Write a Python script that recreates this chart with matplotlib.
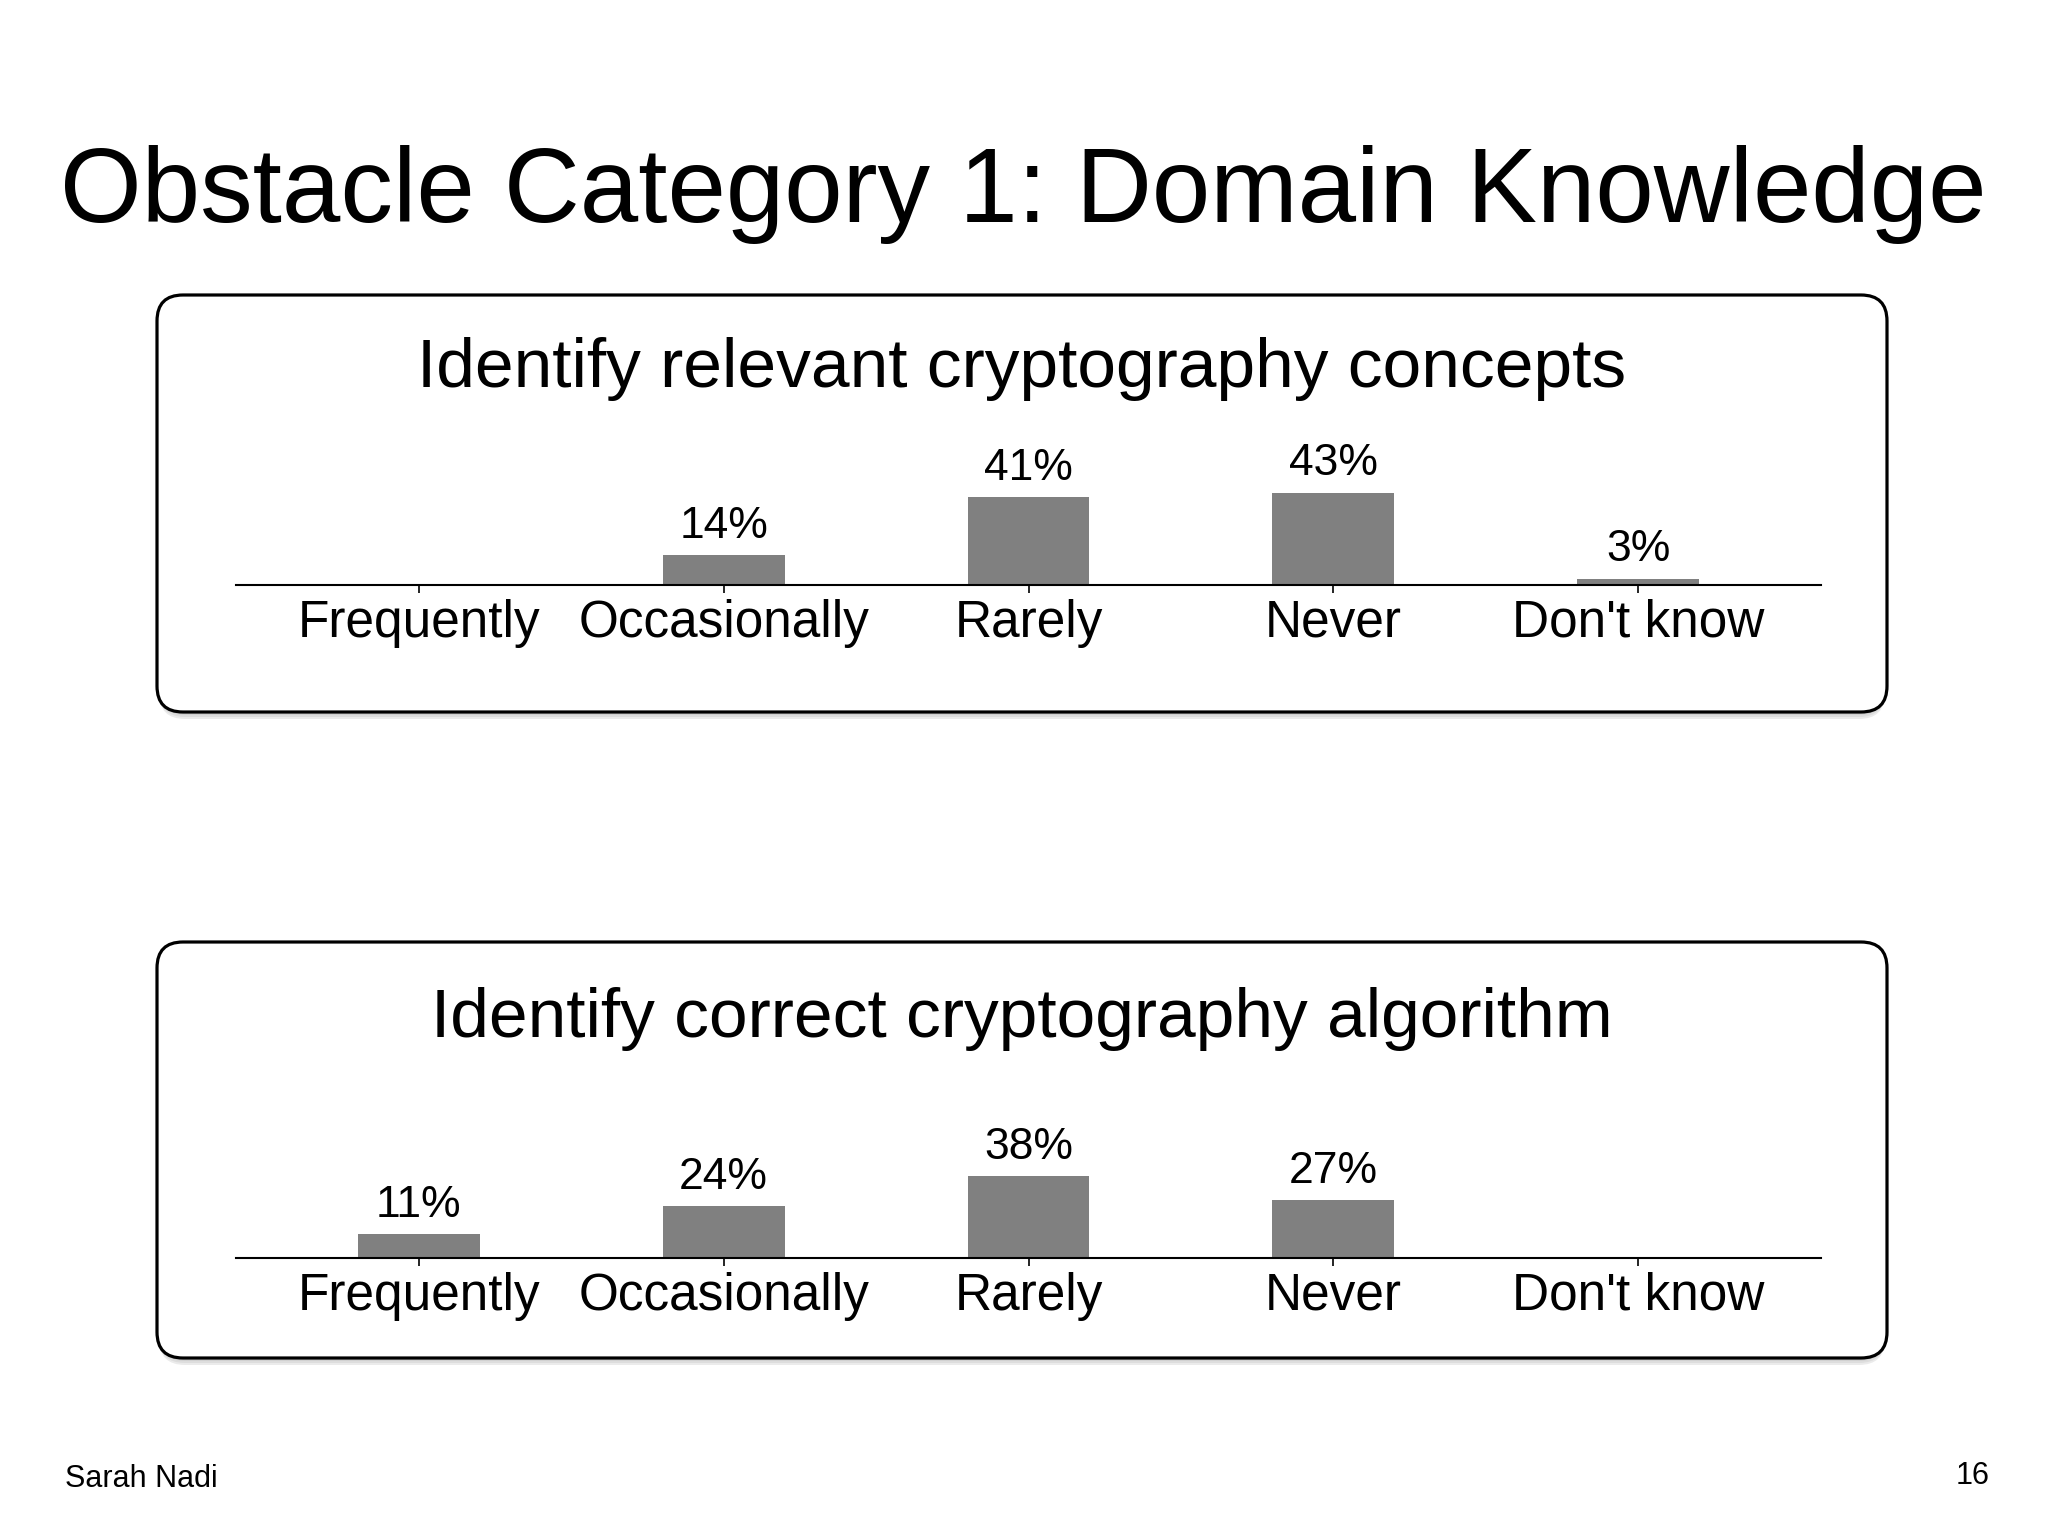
import matplotlib
matplotlib.use("Agg")
import matplotlib.pyplot as plt
from matplotlib.patches import FancyBboxPatch

plt.rcParams["font.family"] = ["Liberation Sans", "DejaVu Sans"]

titulo = "Obstacle Category 1: Domain Knowledge"
categorias = ["Frequently", "Occasionally", "Rarely", "Never", "Don't know"]
titulo_arriba = "Identify relevant cryptography concepts"
valores_arriba = [0, 14, 41, 43, 3]
titulo_abajo = "Identify correct cryptography algorithm"
valores_abajo = [11, 24, 38, 27, 0]
autor = "Sarah Nadi"
pagina = "16"

W, H = 2048, 1536
fig = plt.figure(figsize=(W / 100, H / 100), dpi=100)
fondo = fig.add_axes([0, 0, 1, 1])
fondo.set_xlim(0, W)
fondo.set_ylim(H, 0)
fondo.axis("off")

fondo.text(W / 2 - 1, 222, titulo, ha="center", va="baseline", fontsize=75.6)
fondo.text(65, 1487, autor, ha="left", va="baseline", fontsize=22)
fondo.text(1990, 1484, pagina, ha="right", va="baseline", fontsize=22)


def caja(y0, y1):
    # sombra suave debajo de la caja
    for k, a in enumerate([0.05, 0.06, 0.08]):
        d = 3 + k * 2
        fondo.add_patch(FancyBboxPatch((157 + 2, y0 + d), 1730 - 4, y1 - y0,
                                       boxstyle="round,pad=0,rounding_size=26",
                                       facecolor="black", edgecolor="none",
                                       alpha=a, zorder=1))
    fondo.add_patch(FancyBboxPatch((157, y0), 1730, y1 - y0,
                                   boxstyle="round,pad=0,rounding_size=26",
                                   facecolor="white", edgecolor="black",
                                   linewidth=2.3, zorder=2))


def grafico(base_px, valores, titulo_caja, y_titulo, y0, y1):
    caja(y0, y1)
    fondo.text(1022, y_titulo, titulo_caja, ha="center", va="baseline",
               fontsize=50, zorder=3)
    alto = 50 * 2.15
    ax = fig.add_axes([236 / W, 1 - base_px / H, (1821 - 236) / W, alto / H])
    ax.patch.set_alpha(0)
    x = range(len(categorias))
    ax.bar(x, valores, width=0.4, color="#808080", zorder=2)
    for xi, v in zip(x, valores):
        if v > 0:
            ax.annotate(f"{v}%", (xi, v), xytext=(0, 6), textcoords="offset points",
                        ha="center", va="bottom", fontsize=32)
    ax.set_xlim(-0.6, 4.6)
    ax.set_ylim(0, 50)
    for s in ["top", "right", "left"]:
        ax.spines[s].set_visible(False)
    ax.spines["bottom"].set_linewidth(1.5)
    ax.spines["bottom"].set_zorder(3)
    ax.set_yticks([])
    ax.set_xticks(list(x))
    ax.set_xticklabels(categorias, fontsize=37)
    ax.tick_params(axis="x", direction="out", length=6, width=1.2, pad=4)
    return ax


grafico(585, valores_arriba, titulo_arriba, 387, 295, 712)
grafico(1258, valores_abajo, titulo_abajo, 1037, 942, 1358)

fig.savefig("out.png", dpi=100)
